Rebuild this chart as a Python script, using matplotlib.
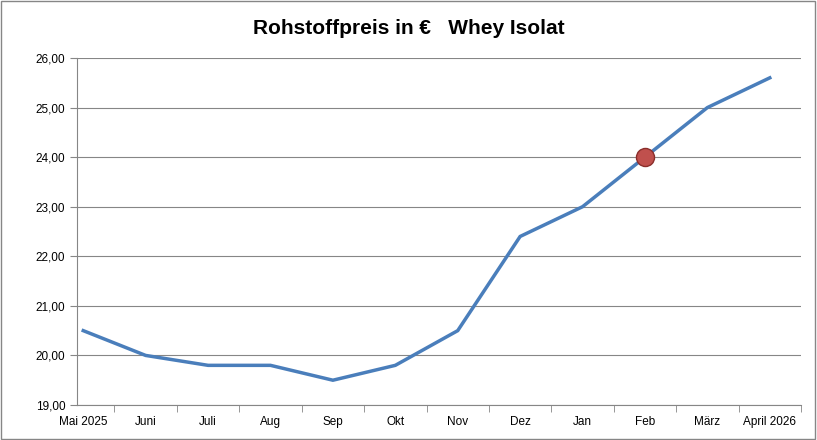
import matplotlib
matplotlib.use("Agg")
import matplotlib.pyplot as plt
from matplotlib.patches import Rectangle

months = ["Mai 2025","Juni","Juli","Aug","Sep","Okt","Nov","Dez","Jan","Feb","März","April 2026"]
prices = [20.5,20.0,19.8,19.8,19.5,19.8,20.5,22.4,23.0,24.0,25.0,25.6]
highlight = 9

plt.rcParams['font.family'] = ['Liberation Sans','DejaVu Sans']
fig = plt.figure(figsize=(8.17,4.40), dpi=100)
ax = fig.add_axes([77/817, 1-405/440, (801-77)/817, (405-58)/440])
x = list(range(len(months)))
ax.plot(x, prices, color='#4a7ebb', lw=2.5, solid_joinstyle='miter')
ax.plot([x[highlight]], [prices[highlight]], 'o', ms=13, mfc='#c0504d', mec='#8b2e2b', mew=1)
ax.set_xlim(-0.1, len(months)-0.5)
ax.set_ylim(19, 26)
ax.set_yticks(range(19,27))
ax.set_yticklabels([f"{v},00" for v in range(19,27)], fontsize=8.5)
ax.set_xticks(x)
ax.set_xticklabels(months, fontsize=8.5)
ax.set_xticks([i+0.5 for i in range(len(months))], minor=True)
ax.tick_params(axis='x', which='major', length=0, pad=8)
ax.tick_params(axis='x', which='minor', length=5, color='#868686')
ax.tick_params(axis='y', length=5, color='#868686')
ax.grid(axis='y', color='#868686', lw=0.8)
ax.set_axisbelow(True)
for s in ['top','right']:
    ax.spines[s].set_visible(False)
for s in ['left','bottom']:
    ax.spines[s].set_color('#868686')
fig.text(0.5, 1-28/440, "Rohstoffpreis in €   Whey Isolat", ha='center', va='center', fontsize=15, fontweight='bold')
fig.patches.append(Rectangle((0.001,0.002),0.997,0.995, transform=fig.transFigure, fill=False, ec='#868686', lw=1))
fig.savefig("out.png", dpi=100)
